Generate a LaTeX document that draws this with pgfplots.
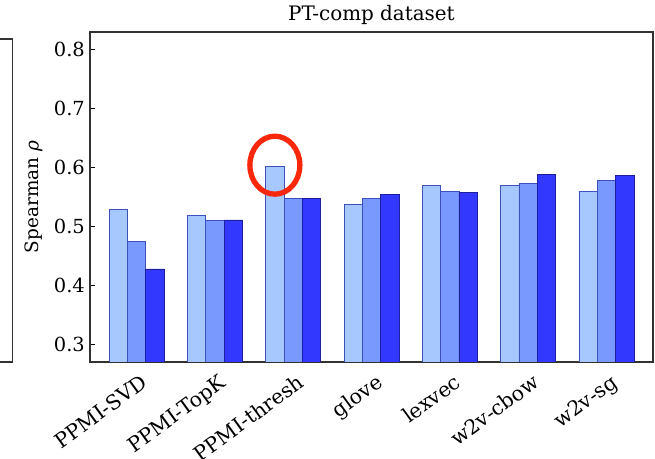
\documentclass[border=0pt]{standalone}
\usepackage{fontspec}
\setmainfont{DejaVu Serif}
\usepackage{pgfplots}
\pgfplotsset{compat=1.18}
\definecolor{cA}{RGB}{166,200,255}
\definecolor{cB}{RGB}{122,153,255}
\definecolor{cC}{RGB}{51,56,255}
\definecolor{edgeA}{RGB}{60,80,190}
\definecolor{edgeB}{RGB}{60,80,190}
\definecolor{edgeC}{RGB}{30,30,160}
\definecolor{frame}{RGB}{50,50,50}
\definecolor{circ}{RGB}{250,40,10}
\begin{document}
\begin{tikzpicture}[x=1bp,y=1bp]
\begin{axis}[
  at={(90bp,97bp)}, anchor=south west,
  scale only axis, width=563bp, height=330bp,
  xmin=-0.595, xmax=6.595, ymin=0.27, ymax=0.83,
  axis line style={frame, line width=1.1bp},
  xtick={0,1,2,3,4,5,6},
  xticklabels={PPMI-SVD,PPMI-TopK,PPMI-thresh,glove,lexvec,w2v-cbow,w2v-sg},
  x tick style={draw=none},
  xticklabel style={rotate=36, anchor=north east, inner sep=0pt, text height=0.76em, text depth=0.24em, yshift=-15bp, xshift=-1bp, font=\fontsize{20.5}{24}\selectfont},
  ytick={0.3,0.4,0.5,0.6,0.7,0.8},
  yticklabels={0.3,0.4,0.5,0.6,0.7,0.8},
  y tick style={black, line width=0.8bp},
  tick align=inside, ytick pos=left, major tick length=4.5bp,
  yticklabel style={inner sep=0pt, xshift=-5bp, font=\fontsize{19.5}{22}\selectfont},
  ylabel={Spearman \textit{ρ}},
  ylabel style={at={(axis description cs:-0.1,0.5)}, anchor=center, font=\fontsize{18.5}{22}\selectfont},
  title={PT-comp dataset},
  title style={at={(axis description cs:0.5,1)}, anchor=base, yshift=5.5bp, inner sep=0pt, font=\fontsize{20}{24}\selectfont},
  ybar, bar width=0.234,
  clip=true,
]
\addplot[ybar, bar shift=-0.234, fill=cA, draw=edgeA, line width=0.7bp] coordinates {
 (0,0.529) (1,0.519) (2,0.602) (3,0.537) (4,0.569) (5,0.570) (6,0.560)};
\addplot[ybar, bar shift=0, fill=cB, draw=edgeB, line width=0.7bp] coordinates {
 (0,0.474) (1,0.510) (2,0.548) (3,0.548) (4,0.559) (5,0.573) (6,0.578)};
\addplot[ybar, bar shift=0.234, fill=cC, draw=edgeC, line width=0.7bp] coordinates {
 (0,0.428) (1,0.511) (2,0.548) (3,0.555) (4,0.558) (5,0.589) (6,0.587)};
\draw[circ, line width=5.3bp] (axis cs:1.766,0.604) ellipse [x radius=25bp, y radius=29bp];
\end{axis}
\draw[frame, line width=1.1bp] (0,420) -- (12.7,420) -- (12.7,97) -- (0,97);
\pgfresetboundingbox
\useasboundingbox (0,0) rectangle (655,459);
\end{tikzpicture}
\end{document}
